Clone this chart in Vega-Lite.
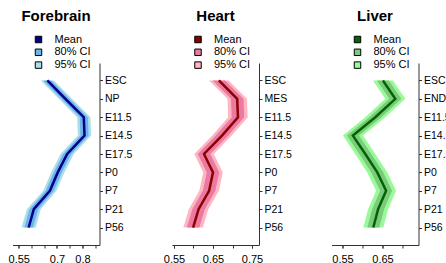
{
  "$schema": "https://vega.github.io/schema/vega-lite/v6.json",
  "padding": {"left": 7.5, "top": 9, "right": 0, "bottom": 0},
  "background": "white",
  "config": {
    "view": {"stroke": null},
    "font": "Liberation Sans",
    "axis": {"grid": false, "title": null, "domainColor": "#333", "tickColor": "#333", "labelColor": "black", "labelFont": "Liberation Sans", "labelFontSize": 11, "tickSize": 3, "domainWidth": 1, "labelOverlap": false},
    "axisY": {"orient": "right", "labelPadding": 2, "labelAngle": 0, "labelFontSize": 10.5},
    "axisX": {"labelPadding": 5, "labelFlush": false, "labelOverlap": false, "format": ".2~f"},
    "legend": {"orient": "none", "legendX": 20.5, "legendY": -29, "title": null, "symbolType": "square", "symbolSize": 42, "symbolStrokeColor": "black", "symbolStrokeWidth": 1, "labelFontSize": 11, "labelFont": "Liberation Sans", "labelColor": "black", "labelOffset": 10.5, "rowPadding": 0.8, "symbolOpacity": 1},
    "title": {"fontSize": 15, "fontWeight": "bold", "font": "Liberation Sans", "anchor": "middle", "frame": "group", "color": "black"}
  },
  "datasets": {
    "forebrain": [
      {"stage": "ESC", "idx": 1, "mean": 0.662, "lo80": 0.646, "hi80": 0.678, "lo95": 0.636, "hi95": 0.688},
      {"stage": "NP", "idx": 2, "mean": 0.733, "lo80": 0.717, "hi80": 0.749, "lo95": 0.707, "hi95": 0.759},
      {"stage": "E11.5", "idx": 3, "mean": 0.805, "lo80": 0.789, "hi80": 0.821, "lo95": 0.779, "hi95": 0.831},
      {"stage": "E14.5", "idx": 4, "mean": 0.808, "lo80": 0.792, "hi80": 0.824, "lo95": 0.782, "hi95": 0.834},
      {"stage": "E17.5", "idx": 5, "mean": 0.740, "lo80": 0.724, "hi80": 0.756, "lo95": 0.714, "hi95": 0.766},
      {"stage": "P0", "idx": 6, "mean": 0.703, "lo80": 0.687, "hi80": 0.719, "lo95": 0.677, "hi95": 0.729},
      {"stage": "P7", "idx": 7, "mean": 0.672, "lo80": 0.656, "hi80": 0.688, "lo95": 0.646, "hi95": 0.698},
      {"stage": "P21", "idx": 8, "mean": 0.609, "lo80": 0.592, "hi80": 0.626, "lo95": 0.582, "hi95": 0.636},
      {"stage": "P56", "idx": 9, "mean": 0.589, "lo80": 0.572, "hi80": 0.606, "lo95": 0.561, "hi95": 0.617}
    ],
    "heart": [
      {"stage": "ESC", "idx": 1, "mean": 0.665, "lo80": 0.649, "hi80": 0.681, "lo95": 0.640, "hi95": 0.690},
      {"stage": "MES", "idx": 2, "mean": 0.712, "lo80": 0.696, "hi80": 0.728, "lo95": 0.687, "hi95": 0.737},
      {"stage": "E11.5", "idx": 3, "mean": 0.714, "lo80": 0.698, "hi80": 0.730, "lo95": 0.689, "hi95": 0.739},
      {"stage": "E14.5", "idx": 4, "mean": 0.673, "lo80": 0.657, "hi80": 0.689, "lo95": 0.648, "hi95": 0.698},
      {"stage": "E17.5", "idx": 5, "mean": 0.627, "lo80": 0.611, "hi80": 0.643, "lo95": 0.602, "hi95": 0.652},
      {"stage": "P0", "idx": 6, "mean": 0.650, "lo80": 0.634, "hi80": 0.666, "lo95": 0.625, "hi95": 0.675},
      {"stage": "P7", "idx": 7, "mean": 0.640, "lo80": 0.624, "hi80": 0.656, "lo95": 0.615, "hi95": 0.665},
      {"stage": "P21", "idx": 8, "mean": 0.613, "lo80": 0.597, "hi80": 0.629, "lo95": 0.588, "hi95": 0.638},
      {"stage": "P56", "idx": 9, "mean": 0.599, "lo80": 0.583, "hi80": 0.615, "lo95": 0.574, "hi95": 0.624}
    ],
    "liver": [
      {"stage": "ESC", "idx": 1, "mean": 0.651, "lo80": 0.636, "hi80": 0.666, "lo95": 0.626, "hi95": 0.676},
      {"stage": "END", "idx": 2, "mean": 0.682, "lo80": 0.667, "hi80": 0.697, "lo95": 0.657, "hi95": 0.707},
      {"stage": "E11.5", "idx": 3, "mean": 0.632, "lo80": 0.617, "hi80": 0.647, "lo95": 0.607, "hi95": 0.657},
      {"stage": "E14.5", "idx": 4, "mean": 0.576, "lo80": 0.561, "hi80": 0.591, "lo95": 0.551, "hi95": 0.601},
      {"stage": "E17.5", "idx": 5, "mean": 0.607, "lo80": 0.592, "hi80": 0.622, "lo95": 0.582, "hi95": 0.632},
      {"stage": "P0", "idx": 6, "mean": 0.637, "lo80": 0.622, "hi80": 0.652, "lo95": 0.612, "hi95": 0.662},
      {"stage": "P7", "idx": 7, "mean": 0.659, "lo80": 0.644, "hi80": 0.674, "lo95": 0.634, "hi95": 0.684},
      {"stage": "P21", "idx": 8, "mean": 0.639, "lo80": 0.624, "hi80": 0.654, "lo95": 0.614, "hi95": 0.664},
      {"stage": "P56", "idx": 9, "mean": 0.627, "lo80": 0.612, "hi80": 0.642, "lo95": 0.602, "hi95": 0.652}
    ]
  },
  "spacing": 72.5,
  "bounds": "flush",
  "resolve": {"scale": {"color": "independent"}, "legend": {"color": "independent"}},
  "hconcat": [
    {
      "title": {"text": "Forebrain", "offset": -2, "baseline": "alphabetic", "anchor": "middle", "frame": "group"},
      "width": 87, "height": 182,
      "data": {"name": "forebrain"},
      "encoding": {
        "y": {"field": "stage", "type": "nominal", "sort": {"field": "idx", "op": "min"}, "scale": {"type": "point", "padding": 0.95}, "axis": {"orient": "right"}}
      },
      "resolve": {"axis": {"x": "independent"}},
      "layer": [
        {"mark": {"type": "area", "opacity": 1},
         "encoding": {"x": {"field": "lo95", "type": "quantitative", "scale": {"domain": [0.5255, 0.8667], "nice": false, "zero": false}, "axis": {"orient": "bottom", "values": [0.55, 0.7, 0.8], "labelOverlap": false}},
                      "x2": {"field": "hi95"},
                      "color": {"datum": "95% CI", "type": "nominal", "scale": {"domain": ["Mean", "80% CI", "95% CI"], "range": ["#00008B", "#6CB5EA", "#ADDCEB"]}}}},
        {"mark": {"type": "area", "opacity": 1},
         "encoding": {"x": {"field": "lo80", "type": "quantitative", "axis": null}, "x2": {"field": "hi80"},
                      "color": {"datum": "80% CI", "type": "nominal"}}},
        {"mark": {"type": "line", "color": "#00008B", "strokeWidth": 2.5},
         "encoding": {"x": {"field": "mean", "type": "quantitative", "axis": {"orient": "bottom", "values": [0.55, 0.6, 0.65, 0.7, 0.75, 0.8, 0.85], "labels": false, "domain": false}}}}
      ]
    },
    {
      "title": {"text": "Heart", "offset": -2, "baseline": "alphabetic", "anchor": "middle", "frame": "group"},
      "width": 87, "height": 182,
      "data": {"name": "heart"},
      "encoding": {
        "y": {"field": "stage", "type": "nominal", "sort": {"field": "idx", "op": "min"}, "scale": {"type": "point", "padding": 0.95}, "axis": {"orient": "right"}}
      },
      "resolve": {"axis": {"x": "independent"}},
      "layer": [
        {"mark": {"type": "area", "opacity": 1},
         "encoding": {"x": {"field": "lo95", "type": "quantitative", "scale": {"domain": [0.5449, 0.7679], "nice": false, "zero": false}, "axis": {"orient": "bottom", "values": [0.55, 0.65, 0.75], "labelOverlap": false}},
                      "x2": {"field": "hi95"},
                      "color": {"datum": "95% CI", "type": "nominal", "scale": {"domain": ["Mean", "80% CI", "95% CI"], "range": ["#8B0000", "#EA7AA2", "#FFB6C1"]}}}},
        {"mark": {"type": "area", "opacity": 1},
         "encoding": {"x": {"field": "lo80", "type": "quantitative", "axis": null}, "x2": {"field": "hi80"},
                      "color": {"datum": "80% CI", "type": "nominal"}}},
        {"mark": {"type": "line", "color": "#8B0000", "strokeWidth": 2.5},
         "encoding": {"x": {"field": "mean", "type": "quantitative", "axis": {"orient": "bottom", "values": [0.55, 0.6, 0.65, 0.7, 0.75], "labels": false, "domain": false}}}}
      ]
    },
    {
      "title": {"text": "Liver", "offset": -2, "baseline": "alphabetic", "anchor": "middle", "frame": "group"},
      "width": 87, "height": 182,
      "data": {"name": "liver"},
      "encoding": {
        "y": {"field": "stage", "type": "nominal", "sort": {"field": "idx", "op": "min"}, "scale": {"type": "point", "padding": 0.95}, "axis": {"orient": "right"}}
      },
      "resolve": {"axis": {"x": "independent"}},
      "layer": [
        {"mark": {"type": "area", "opacity": 1},
         "encoding": {"x": {"field": "lo95", "type": "quantitative", "scale": {"domain": [0.5225, 0.74], "nice": false, "zero": false}, "axis": {"orient": "bottom", "values": [0.55, 0.65], "labelOverlap": false}},
                      "x2": {"field": "hi95"},
                      "color": {"datum": "95% CI", "type": "nominal", "scale": {"domain": ["Mean", "80% CI", "95% CI"], "range": ["#006400", "#7CCB7C", "#98FB98"]}}}},
        {"mark": {"type": "area", "opacity": 1},
         "encoding": {"x": {"field": "lo80", "type": "quantitative", "axis": null}, "x2": {"field": "hi80"},
                      "color": {"datum": "80% CI", "type": "nominal"}}},
        {"mark": {"type": "line", "color": "#006400", "strokeWidth": 2.5},
         "encoding": {"x": {"field": "mean", "type": "quantitative", "axis": {"orient": "bottom", "values": [0.55, 0.6, 0.65, 0.7], "labels": false, "domain": false}}}}
      ]
    }
  ]
}
